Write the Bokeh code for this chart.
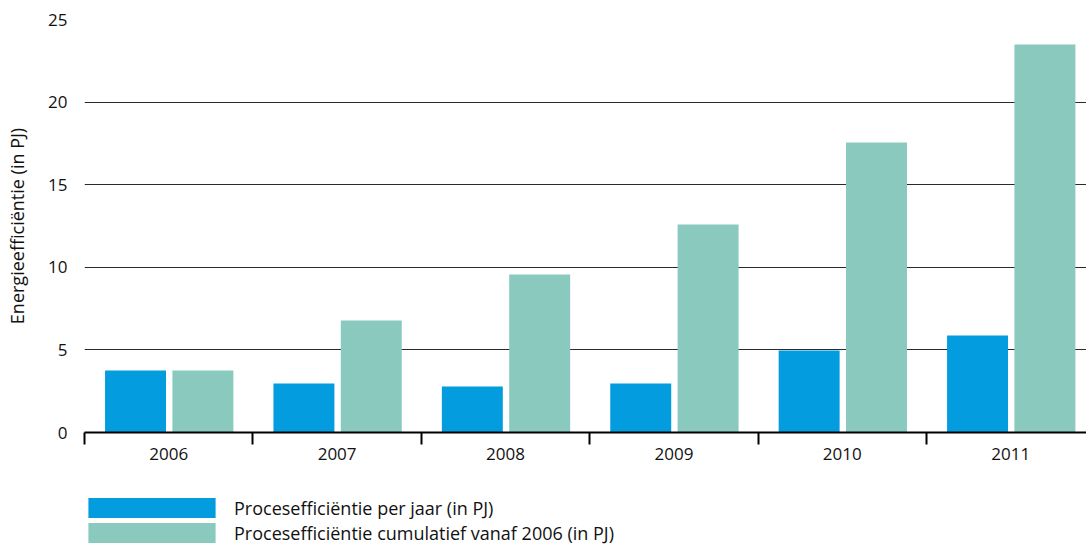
from bokeh.plotting import figure
from bokeh.layouts import column
from bokeh.models import (ColumnDataSource, FixedTicker, LinearAxis, Range1d,
                          Legend, LegendItem)
from bokeh.transform import dodge
from bokeh.embed import file_html
from bokeh.resources import INLINE

years = ["2006", "2007", "2008", "2009", "2010", "2011"]
per_jaar = [3.75, 2.97, 2.78, 2.97, 4.96, 5.87]
cumulatief = [3.75, 6.78, 9.56, 12.59, 17.55, 23.49]
y_ticks = [0, 5, 10, 15, 20, 25]
series_labels = ["Procesefficiëntie per jaar (in PJ)",
                 "Procesefficiëntie cumulatief vanaf 2006 (in PJ)"]

FONT = "Open Sans"
BLUE = "#039DDF"
GREEN = "#8AC9BE"
TXT = "#111111"

pos = [i + 0.5 for i in range(len(years))]
src = ColumnDataSource(dict(x=pos, year=years, a=per_jaar, b=cumulatief))

p = figure(width=1086, height=490, output_backend="svg", toolbar_location=None,
           x_range=Range1d(0, 5.95), y_range=Range1d(0, 25),
           x_axis_type=None, min_border_left=84, min_border_right=0,
           min_border_top=19, min_border_bottom=58)
p.outline_line_color = None
p.xgrid.grid_line_color = None

p.vbar(x=dodge("x", -0.197, range=p.x_range), top="a", width=0.362,
       source=src, color=BLUE, line_color=None)
p.vbar(x=dodge("x", 0.203, range=p.x_range), top="b", width=0.362,
       source=src, color=GREEN, line_color=None)

# x axis: labels at centres, tick marks at category boundaries
xa = LinearAxis(ticker=FixedTicker(ticks=pos, minor_ticks=list(range(len(years) + 1))))
xa.major_label_overrides = {pp: y for pp, y in zip(pos, years)}
xa.major_tick_line_color = None
xa.major_tick_out = 12
xa.major_tick_in = 0
xa.minor_tick_out = 12
xa.minor_tick_in = 0
xa.minor_tick_line_color = "black"
xa.minor_tick_line_width = 2
xa.axis_line_color = "black"
xa.axis_line_width = 2
xa.major_label_standoff = 3
xa.major_label_text_font = FONT
xa.major_label_text_font_size = "17px"
xa.major_label_text_color = TXT
p.add_layout(xa, "below")

ya = p.yaxis[0]
ya.ticker = FixedTicker(ticks=y_ticks)
ya.axis_line_color = None
ya.major_tick_line_color = None
ya.minor_tick_line_color = None
ya.major_tick_out = 0
ya.major_tick_in = 0
ya.major_label_standoff = 17
ya.major_label_text_font = FONT
ya.major_label_text_font_size = "17px"
ya.major_label_text_color = TXT
ya.axis_label = "Energieefficiëntie (in PJ)"
ya.axis_label_text_font = FONT
ya.axis_label_text_font_size = "18px"
ya.axis_label_text_font_style = "normal"
ya.axis_label_text_color = TXT
ya.axis_label_standoff = 16

p.ygrid.ticker = FixedTicker(ticks=y_ticks)
p.ygrid.grid_line_color = "#2a2a2a"
p.ygrid.grid_line_width = 1.2

# legend strip below the chart (keys use hidden renderers of the same series)
pl = figure(width=1086, height=55, output_backend="svg", toolbar_location=None,
            x_range=Range1d(0, 1), y_range=Range1d(0, 1),
            x_axis_type=None, y_axis_type=None,
            min_border_left=0, min_border_right=0, min_border_top=0, min_border_bottom=0)
pl.outline_line_color = None
pl.xgrid.grid_line_color = None
pl.ygrid.grid_line_color = None
k1 = pl.vbar(x="x", top="a", width=0.362, source=src, color=BLUE, line_color=None, visible=False)
k2 = pl.vbar(x="x", top="b", width=0.362, source=src, color=GREEN, line_color=None, visible=False)

legend = Legend(items=[
    LegendItem(label=series_labels[0], renderers=[k1]),
    LegendItem(label=series_labels[1], renderers=[k2]),
], location=(-12, 0))
legend.glyph_width = 159
legend.glyph_height = 25
legend.label_height = 25
legend.spacing = 0
legend.padding = 0
legend.margin = 0
legend.label_standoff = 3
legend.label_text_font = FONT
legend.label_text_font_size = "18px"
legend.label_text_color = TXT
legend.border_line_color = None
legend.background_fill_alpha = 0
legend.inactive_fill_alpha = 0
pl.add_layout(legend)

layout = column(p, pl, spacing=0)
open("out.html", "w").write(file_html(layout, INLINE))
